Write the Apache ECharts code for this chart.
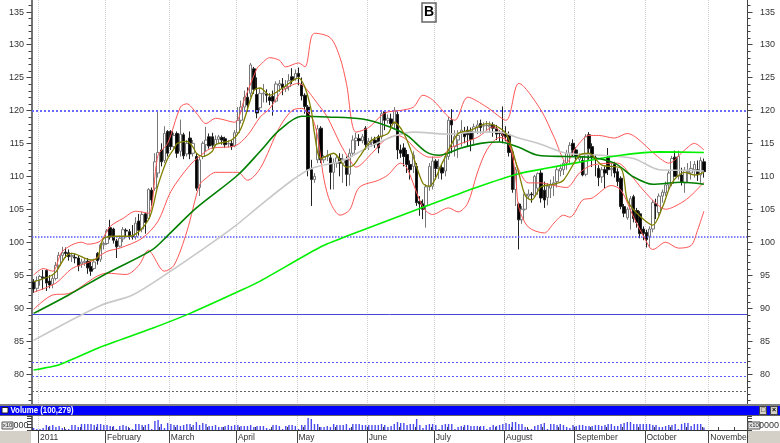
<!DOCTYPE html>
<html><head><meta charset="utf-8">
<style>html,body{margin:0;padding:0;background:#fff}#c{width:780px;height:443px}</style>
<script src="https://cdn.jsdelivr.net/npm/echarts@6/dist/echarts.min.js"></script>
</head><body><div id="c"></div>
<script>
// Each row: open, close, low, high
const candlesJan=[[94,92.9,92.3,94.4],[93,94.2,92.5,94.8],[94.3,94.8,93.4,95],[94.7,94.6,92.8,95.8],[95.7,93.8,92.6,95.9],[94.1,93.5,93,95],[93.6,94.5,93,95],[94.5,96.5,94.2,97],[96.5,98,96,98.5],[98,98.4,97.2,99.3],[98.5,98.3,97.6,99.2],[98.4,97.8,97.2,98.9],[97.8,98,97,98.4],[97.7,97.6,96.8,98.2],[97.6,96.4,95.6,98],[96.7,97,96.1,97.5],[96.9,97.1,96.4,97.6],[97.1,96.1,95.2,97.6],[96.3,95.6,94.9,97.2],[96,97,95.8,97.5],[98.3,97.2,96.6,98.5],[97.4,99.6,97,99.9],[99.6,99.8,98.9,100.1]];
const candlesFeb=[[99.8,101.7,99.6,102],[102.2,101,100.4,103.4],[102,100.3,99.8,102.2],[100.2,99.3,97.6,100.5],[99.4,100.6,99.2,101],[100.5,101.9,100,102.3],[101.8,101.7,100.8,102.1],[101.6,100.9,100.4,102],[100.9,100.8,100.4,102.6],[100.8,102.9,100.4,103.8],[103.2,101.8,101,104.3],[102,104.2,101.5,104.6],[104.3,103,101.3,104.5],[103.6,108,103.4,108.2],[107.9,106.4,105.5,108.3],[108.2,112.2,107.8,113.5],[110.5,113.6,109.8,120],[114,112.2,111.5,115],[112.4,116.5,112,117.6]];
const candlesMar=[[116.8,113.5,113,117],[116.8,114.5,114,117],[114.5,116.2,114,116.6],[116.5,113.5,112.8,116.8],[113.8,116.4,113,118.6],[116.3,113.1,112.6,116.6],[113.4,115,113,115.5],[115.8,113.4,112.6,116.8],[113.5,115,113,115.5],[113,108.2,107.8,113.5],[108.3,112.5,107,113],[113,115,112.6,115.3],[114.8,115.5,113.8,117.5],[116,114.6,114.2,116.5],[116,114.7,114.2,116.6],[114.8,115.6,114.5,116.2],[115.6,116,115,116.3],[115.9,115.5,114.8,116.2],[115.7,114.8,114.3,116],[114.9,115,114.4,115.5],[115,114.5,114,115.5],[114.6,116.6,114.4,117]];
const candlesApr=[[116.6,118.5,116.3,120.5],[118.5,120.5,118,121.5],[120.5,122,120,123],[122,120.8,119.8,123.5],[122.6,126.9,122,127.2],[126.3,123.2,122.5,126.6],[122.4,119.6,118.8,125],[120.4,122.6,120,123.4],[122.5,122.6,121.2,124],[122.5,122.3,121.2,123.2],[122,121.5,120.8,122.6],[122.1,121.4,119.2,123],[121.4,124,121.2,124.4],[123.8,124.1,122.8,124.6],[124,123.4,122.3,124.9],[123.3,123.6,122.8,124.6],[123.6,124.5,123,125.5],[125.1,124.6,124,126.4],[124.8,125.6,124.5,126.2]];
const candlesMay=[[125.6,125.1,123.8,126.5],[123.9,122.2,121.5,125],[122.3,120.6,119.5,122.6],[120.5,111,110,120.8],[111,109.5,105.5,112.5],[109.5,110,109,110.5],[112.5,117.2,112,117.8],[117.3,112.5,112,117.6],[112.5,113,112,113.2],[113,113.2,112.3,114],[112.8,110.6,108,113.3],[110.6,112,108,112.7],[112,112.8,111.3,113.3],[112.7,112,110,113.5],[112,112.6,109,113.4],[112.5,110.3,108.5,113],[110.3,113.5,108.6,114.2],[113.5,115.5,113,116.2],[115.4,115.8,114,116.6],[115.7,115.4,114.6,116.4],[115.4,116,115,116.4],[117.3,114.8,114,117.6]];
const candlesJun=[[114.8,115.3,114,115.8],[115.2,115.5,114.5,116],[115.5,114.9,114.3,116],[116,114.3,113.5,116.3],[116,119.5,115.6,119.9],[119.8,118.5,117,120],[118.5,118.8,118,119.4],[118.7,118,117,119.5],[118,120,117.3,120.5],[119.4,114,112.6,119.8],[114,113.5,112.8,114.8],[114.3,113,111.5,115],[113.3,111.8,110.5,114],[111.8,111,109.5,112.4],[111.5,113.2,110.5,113.8],[111.5,106,105.5,112],[106.2,105.8,104,107],[105.8,105,103.5,106.5],[105.5,108.4,102.2,108.8],[108.4,111.5,107.8,112],[108.5,112.3,108,113]];
const candlesJul=[[112.3,111.2,109.5,112.6],[111.3,111.4,109.6,112.6],[111.3,110.5,109.5,111.8],[110.8,113,110,113.5],[113,118.5,112.5,119],[118.5,117.8,113.5,120.2],[114.5,116,113,117],[115.5,116.2,112.8,117],[116.5,117,114.5,118.5],[116.5,116,115,117.5],[117,116.3,114.5,117.6],[116.8,115.6,113.8,117.4],[116.7,117.5,114.7,118],[117.4,117.8,116.4,118.5],[118,117.4,116.5,118.6],[117.6,117.7,116.5,118.2],[117.7,117.7,117,118.4],[117.5,117.7,116.6,118.3],[117.8,117.3,116,118.2],[117.2,116.4,115.5,117.8],[116.6,116.5,115.2,117]];
const candlesAug=[[116.7,116.2,115,120.6],[116.5,116,115.3,117.6],[116.3,113.6,113,116.8],[113.7,108,107.5,114],[108,111,105.5,111.4],[105.8,103.4,98.9,106],[103.4,105,102.8,105.5],[105,107.3,104.8,107.6],[107,107.3,106.5,108],[107.3,107.2,106,107.6],[107,110,106.8,110.2],[108.2,110.4,107.2,110.6],[110.5,106.7,106,111],[107.9,106.4,105.2,109.2],[106.8,108.5,105.6,109],[108.2,108.8,106.7,109.5],[108.7,109,107,110],[109.2,111,108.3,111.4],[110.8,111.2,110,111.8],[111,112,110.2,112.5],[112,113.5,111,114],[113.5,114.7,112,115.2],[115,114,113,115.6]];
const candlesSep=[[114,113,112.5,114.4],[112.6,112.9,112.2,113.5],[112.4,110.2,110,113],[110.3,116,110,116.4],[116.3,114.2,112.5,116.7],[114.5,113,111.4,115],[112.8,112.5,110,113.2],[111.2,109.8,108.5,111.7],[109.9,111,109,111.4],[111,110.5,108.2,111.5],[112.8,111,110.2,114.3],[111,111.2,110,112],[111.8,110.5,109.8,112.2],[110.7,109.2,108.5,111.2],[109.7,105.4,105,110],[105.4,104.4,103.8,105.8],[103.7,105,103.4,105.3],[105,106.6,101.9,107],[106.9,103.6,103,107.2],[104.8,103,102.2,105.2],[104.3,101.3,100.6,104.7]];
const candlesOct=[[102,101.3,100.3,102.4],[101.5,100.4,99.2,101.9],[100.9,102,99.2,102.4],[102,106,101.5,106.4],[105.8,105.5,103.5,106.6],[104.5,107,104,107.4],[107,107.6,106,108],[107.5,108.7,107,109.2],[108.7,110.5,108,111],[108.9,112.7,108.5,113.1],[112.9,110,110,113.9],[110,113,109.5,113.9],[110.2,109.1,108.6,111.3],[109,110.9,107.5,111.4],[110.6,110.7,109,112],[110.5,111.2,109.5,112.3],[111,111.8,109.8,112.3],[111,110.2,109.3,112.4],[110.2,112.4,109,112.9],[112.2,110.7,109.8,112.7]];

// Volume, in units of 10,000 shares
const volumeValues=[8,4,4,8,20,16,20,12,16,8,4,4,20,20,12,24,24,24,24,20,24,24,20,20,16,16,4,16,20,16,8,4,24,24,20,20,24,4,36,40,24,8,28,24,20,20,16,20,24,24,20,32,20,28,24,16,16,20,12,12,16,20,16,20,20,16,16,16,20,12,16,16,16,8,4,20,20,16,4,16,20,20,16,4,20,20,48,44,24,24,12,12,16,12,24,20,20,20,24,8,24,24,24,20,20,20,20,20,20,24,20,12,16,24,32,28,28,20,24,24,44,20,8,20,24,24,20,4,20,24,24,24,4,12,16,20,20,16,16,16,16,16,4,12,20,16,20,24,28,24,32,32,24,24,12,4,4,16,20,24,28,4,24,24,20,24,20,12,8,20,16,20,20,16,16,16,20,20,16,20,24,24,16,16,24,28,32,32,24,24,24,24,24,24,20,20,12,12,16,20,20,24,4,24,28,28,16,24,24,24,10.03];

// Moving averages and bands: [day index, value]
const ma200=[[0,80.6],[8,81.4],[21,84.1],[37,86.9],[49,89.2],[65,92.7],[71,94.1],[90,99.3],[98,100.9],[122,105.3],[138,108.2],[152,110.4],[174,112.4],[184,113.2],[196,113.7],[210,113.6]];
const ma100=[[0,85.1],[21,90.4],[31,92],[42,95.3],[52,98.6],[63,102.4],[71,105.6],[81,109.4],[87,111.2],[97,112.4],[104,114.2],[113,116.1],[119,116.7],[130,116.4],[138,116.7],[146,116.7],[152,115.8],[158,115],[167,113.5],[178,113.2],[188,112.7],[196,111],[205,110.9],[210,110.8]];
const ma50=[[0,89.2],[11,92],[23,95.3],[37,98.8],[42,101],[51,105.2],[64,110.2],[71,113.8],[77,117],[84,119.1],[92,119],[103,118.7],[111,117.6],[117,116.2],[123,113.7],[127,113.2],[134,114.3],[140,115],[146,115.2],[152,114.4],[158,113.2],[167,113],[174,112.9],[182,112],[188,109.9],[194,108.8],[203,109.1],[210,108.8]];
const ma10=[[0,94],[5,94.8],[7,95.5],[10,97.8],[12,98.3],[18,97.3],[20,97.6],[22,100.6],[26,100.9],[30,100.9],[36,103.4],[39,108.7],[42,112.7],[44,114.2],[45,115],[48,115.3],[50,114.4],[51,113.5],[53,113],[56,113.8],[57,114.8],[62,115.5],[65,117.3],[69,123],[71,123.4],[74,122.3],[78,123.4],[83,124.9],[85,123.5],[87,120],[88,116.5],[90,112.7],[94,113.5],[98,111.4],[100,111.6],[102,112.9],[106,115.5],[111,116.5],[113,118.2],[116,116.5],[119,112.9],[122,108.9],[124,108.5],[128,112],[133,116.5],[137,117],[142,118],[147,117],[149,115.5],[152,110.5],[154,107.1],[156,106.4],[159,108.4],[163,108.8],[166,109.4],[171,113.2],[174,113.5],[178,111.7],[184,111.2],[186,106.4],[189,104.4],[194,102.6],[197,105.3],[200,109],[204,110.6],[207,110.2],[210,110.6]];
const bandUpper=[[0,95],[3,96],[6,95.6],[9,98.6],[15,100],[17,99.7],[21,100.2],[24,102.4],[28,103.6],[32,104.7],[36,104.4],[39,113.2],[42,115],[46,120.5],[48,121],[51,119.6],[54,118],[57,118.8],[63,118.2],[66,121.6],[70,126.4],[71,126.9],[74,128],[77,127.6],[79,126.6],[83,127.2],[85,126.6],[87,131.1],[88,131.7],[93,131],[96,128],[98,124.1],[101,116.7],[105,117.4],[110,119.6],[115,120],[119,120.5],[122,122.3],[125,121.6],[130,119],[132,118.5],[136,122],[142,120.5],[148,118.5],[152,124.1],[159,120],[163,116],[167,112.1],[170,114.4],[174,116.2],[177,116.2],[182,115.8],[186,116.5],[189,115.8],[195,113.2],[199,112],[204,114],[207,115],[210,114]];
const bandMiddle=[[0,92.4],[7,93.8],[12,96],[18,97.1],[23,98.6],[27,99.1],[34,100.6],[39,103.2],[43,107.7],[49,111.7],[54,113.8],[56,114.3],[63,114.6],[67,116.2],[71,119],[74,120.3],[78,123],[83,124.1],[85,123.5],[89,121],[92,119],[96,115],[99,112.5],[101,111.4],[106,113.5],[110,115.5],[114,116.2],[117,115.5],[120,114],[124,112.9],[127,112.9],[131,114.4],[139,115.9],[144,117.5],[149,114.7],[152,111],[155,109],[159,109],[163,108.6],[167,108.3],[171,110.5],[175,111.7],[183,112],[187,110.2],[191,107.9],[195,105.9],[198,105],[203,106],[206,107.1],[210,109.1]];
const bandLower=[[0,89.8],[6,92],[11,92.2],[23,95.3],[29,95.1],[33,96.5],[36,98.8],[37,98.3],[41,95.6],[44,96.5],[48,101.6],[52,108.7],[54,109.7],[57,110.6],[64,110.6],[67,109.4],[71,111.2],[77,117.4],[81,120],[84,120.3],[88,118],[91,109.5],[93,106],[96,104.1],[99,104.9],[102,108.3],[108,109.4],[111,110.2],[115,112],[117,111.2],[122,105.3],[125,104.2],[130,105.2],[133,104.6],[136,105.9],[139,110.5],[142,114],[146,115.9],[149,115],[151,110],[152,105.3],[155,102.3],[160,101.4],[163,102.9],[166,104.1],[168,103.8],[172,106.4],[175,106.7],[181,108.6],[184,107.9],[188,103.8],[193,99.2],[194,98.9],[198,100],[202,99.1],[206,99.5],[208,101.8],[210,104.7]];

const monthStarts=[2,23,43,64,83,105,126,148,170,192,212];
const monthNames=['2011','February','March','April','May','June','July','August','September','October','November'];
const priceLevels=[120,100.9];
const solidLevel=89.1;
const lowerLevels=[81.8,79.6];
const lastLevel=77.4;
const slotCount=224;

const candles=[].concat(candlesJan,candlesFeb,candlesMar,candlesApr,candlesMay,candlesJun,candlesJul,candlesAug,candlesSep,candlesOct);
const categories=Array.from({length:slotCount},(_,i)=>{const m=monthStarts.indexOf(i);return m>=0?monthNames[m]:''});
const isMonth=i=>monthStarts.indexOf(i)>=0;
const axisGray='#444';
const FF='"Liberation Sans",Arial,sans-serif';
const line=(name,data,color,width,smooth)=>({name,type:'line',data,showSymbol:false,symbol:'none',smooth,lineStyle:{color,width},silent:true,animation:false,xAxisIndex:0,yAxisIndex:0,z:5});
const level=(v,color,type,width)=>({yAxis:v,lineStyle:{color,type,width},symbol:'none'});
const chart=echarts.init(document.getElementById('c'),null,{renderer:'canvas'});
chart.setOption({
 animation:false,backgroundColor:'#fff',
 grid:[{left:32,right:33,top:0,height:404},{left:32,right:33,top:416,height:14}],
 title:{text:'B',left:422,top:3,padding:[3,2,3,2],borderWidth:1.5,borderColor:'#666',textStyle:{fontSize:14,fontWeight:'bold',color:'#000',fontFamily:FF,lineHeight:13},z:20},
 xAxis:[
  {type:'category',gridIndex:0,data:categories,position:'bottom',axisLine:{show:false},axisTick:{show:false},axisLabel:{show:false},
   splitLine:{show:true,interval:(i)=>isMonth(i),lineStyle:{color:'#d0d0d0',type:'dotted',width:1}}},
  {type:'category',gridIndex:1,data:categories,position:'bottom',
   axisLine:{show:true,lineStyle:{color:'#333',width:1}},
   axisTick:{show:true,length:13,interval:(i)=>isMonth(i),lineStyle:{color:'#444',width:1}},
   axisLabel:{show:true,interval:(i)=>isMonth(i),align:'left',margin:3,fontSize:8.5,fontFamily:FF,color:'#333',hideOverlap:false},
   splitLine:{show:true,interval:(i)=>isMonth(i),lineStyle:{color:'#d0d0d0',type:'dotted',width:1}}},
  {type:'category',gridIndex:1,data:categories,position:'bottom',axisLine:{show:false},axisLabel:{show:false},
   axisTick:{show:true,length:3,inside:true,interval:(i)=>i%5===0,lineStyle:{color:'#444',width:1}}}
 ],
 yAxis:[
  {type:'value',gridIndex:0,min:75.45,max:136.75,position:'left',
   axisLine:{show:true,onZero:false,lineStyle:{color:axisGray,width:1.5}},splitLine:{show:false},axisTick:{show:false},axisLabel:{show:false}},
  {type:'value',gridIndex:0,min:75,max:140,interval:5,position:'left',show:false},
  {type:'value',gridIndex:1,min:0,max:56,interval:12,position:'left',
   axisLine:{show:true,lineStyle:{color:axisGray,width:1.5}},axisTick:{show:true,length:5,lineStyle:{color:axisGray}},axisLabel:{show:false},splitLine:{show:false}},
  {type:'value',gridIndex:1,min:0,max:56,interval:12,position:'right',
   axisLine:{show:true,lineStyle:{color:axisGray}},axisTick:{show:true,length:5,lineStyle:{color:axisGray}},axisLabel:{show:false},splitLine:{show:false}},
  {type:'value',gridIndex:0,min:75.45,max:136.75,position:'right',
   axisLine:{show:true,onZero:false,lineStyle:{color:axisGray,width:1}},splitLine:{show:false},axisTick:{show:false},axisLabel:{show:false}}
 ],
 series:[
  {type:'candlestick',name:'price',xAxisIndex:0,yAxisIndex:0,data:candles,barWidth:3,silent:true,z:3,animation:false,
   itemStyle:{color:'#ffffff',color0:'#000000',borderColor:'#777777',borderColor0:'#222222',borderWidth:1},
   markLine:{silent:true,symbol:'none',animation:false,label:{show:false},
    data:[level(priceLevels[0],'#6a6aff','dotted',2),level(priceLevels[1],'#5a5aff','dotted',1.5),level(solidLevel,'#4848d8','solid',1),level(lowerLevels[0],'#5a5aff',[2,2],1),level(lowerLevels[1],'#5a5aff',[2,2],1),level(lastLevel,'#666',[2,2],1)]}},
  line('Lower',bandLower,'#ff5555',1,0.3),
  line('Middle',bandMiddle,'#ff5555',1,0.3),
  line('Upper',bandUpper,'#ff5555',1,0.3),
  line('MA100',ma100,'#c8c8c8',1.6,0.3),
  line('MA200',ma200,'#00f000',1.6,0.2),
  line('MA50',ma50,'#008000',1.6,0.3),
  line('MA10',ma10,'#808000',1.3,0.3),
  {type:'bar',name:'Volume',xAxisIndex:1,yAxisIndex:2,data:volumeValues,barWidth:1.4,silent:true,animation:false,itemStyle:{color:'#4a4aee'}},
  {type:'bar',xAxisIndex:2,yAxisIndex:3,data:[],silent:true}
 ]
});
// Price axis ticks and labels use the chart's own scale
const toY=v=>chart.convertToPixel({xAxisIndex:0,yAxisIndex:0},[0,v])[1];
const g=[];
const X0=31.5,X1=747.5;
for(let v=76;v<=136;v++){
  const y=Math.round(toY(v))+0.5, major=v%5===0;
  g.push({type:'line',silent:true,z:10,shape:{x1:X0-(major?5:3),y1:y,x2:X0,y2:y},style:{stroke:'#444',lineWidth:1}});
  g.push({type:'line',silent:true,z:10,shape:{x1:X1,y1:y,x2:X1+(major?5:3),y2:y},style:{stroke:'#444',lineWidth:1}});
  if(major){
    g.push({type:'text',silent:true,z:10,style:{text:String(v),x:24,y:y,align:'right',verticalAlign:'middle',fontSize:9,fontFamily:FF,fill:'#333'}});
    g.push({type:'text',silent:true,z:10,style:{text:String(v),x:760,y:y,align:'left',verticalAlign:'middle',fontSize:9,fontFamily:FF,fill:'#333'}});
  }
}
// window chrome of the volume pane
g.push({type:'rect',silent:true,z:11,shape:{x:0,y:404,width:780,height:2},style:{fill:'#808080'}});
g.push({type:'rect',silent:true,z:11,shape:{x:0,y:406,width:780,height:9},style:{fill:'#0000ff'}});
g.push({type:'rect',silent:true,z:11,shape:{x:0,y:415,width:780,height:1},style:{fill:'#666'}});
g.push({type:'rect',silent:true,z:12,shape:{x:2,y:407.5,width:6,height:5.5},style:{fill:'#fff',stroke:'#222',lineWidth:1}});
g.push({type:'text',silent:true,z:12,x:10.5,y:410.8,scaleX:0.82,style:{text:'Volume (100,279)',x:0,y:0,verticalAlign:'middle',align:'left',fontSize:9.5,fontWeight:'bold',fontFamily:FF,fill:'#fff'}});
[760,771].forEach((x,k)=>{
 g.push({type:'rect',silent:true,z:12,shape:{x:x-0.5,y:406.5,width:7,height:8},style:{fill:'#d4d0c8',stroke:'#444',lineWidth:1}});
 g.push({type:'text',silent:true,z:13,style:{text:k?'×':'□',x:x+3,y:410.5,align:'center',verticalAlign:'middle',fontSize:7,fontWeight:'bold',fontFamily:FF,fill:'#000'}});
});
g.push({type:'rect',silent:true,z:2,shape:{x:0,y:431,width:31,height:12},style:{fill:'#d4d0c8'}});
g.push({type:'rect',silent:true,z:2,shape:{x:748,y:431,width:32,height:12},style:{fill:'#d4d0c8'}});
g.push({type:'rect',silent:true,z:12,shape:{x:2,y:422,width:11,height:7},style:{fill:'#e8e8e8',stroke:'#555',lineWidth:1}});
g.push({type:'text',silent:true,z:13,style:{text:'x10',x:7.5,y:425.8,align:'center',verticalAlign:'middle',fontSize:6,fontFamily:FF,fill:'#222'}});
g.push({type:'text',silent:true,z:13,style:{text:'000',x:13.5,y:425.5,align:'left',verticalAlign:'middle',fontSize:9,fontFamily:FF,fill:'#333'}});
g.push({type:'rect',silent:true,z:12,shape:{x:748,y:422,width:12,height:7},style:{fill:'#e8e8e8',stroke:'#555',lineWidth:1}});
g.push({type:'text',silent:true,z:13,style:{text:'x10',x:754,y:425.8,align:'center',verticalAlign:'middle',fontSize:6,fontFamily:FF,fill:'#222'}});
g.push({type:'text',silent:true,z:13,style:{text:'0000',x:759,y:425.5,align:'left',verticalAlign:'middle',fontSize:9,fontFamily:FF,fill:'#333'}});
chart.setOption({graphic:{elements:g}});
</script></body></html>
